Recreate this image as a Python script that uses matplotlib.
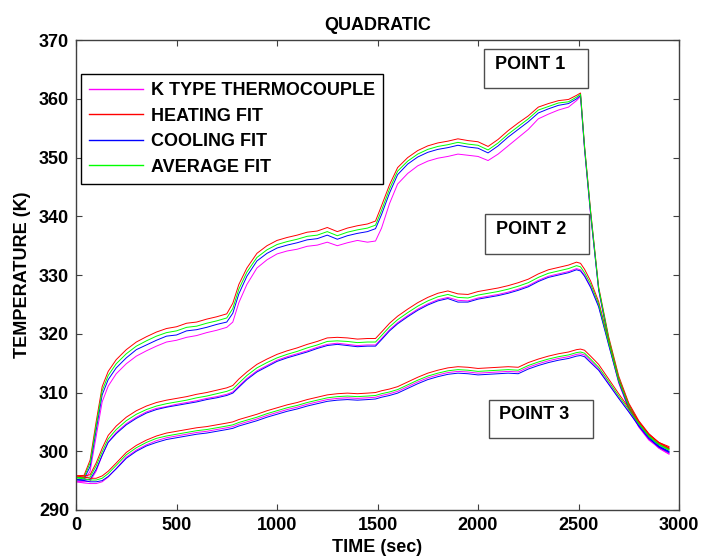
import matplotlib
matplotlib.use('Agg')
import matplotlib.pyplot as plt
from matplotlib.patches import Rectangle

# time axis shared by every trace (sec)
time_s = [0, 40, 70, 100, 130, 160, 200, 250, 300, 350, 400, 450, 500, 550, 600, 650, 700, 750,
          780, 810, 850, 900, 950, 1000, 1050, 1100, 1150, 1200, 1250, 1300, 1350, 1400, 1450,
          1490, 1520, 1560, 1600, 1650, 1700, 1750, 1800, 1850, 1900, 1950, 2000, 2050, 2100,
          2150, 2200, 2250, 2300, 2350, 2400, 2450, 2490, 2510, 2530, 2560, 2600, 2650, 2700,
          2750, 2800, 2850, 2900, 2950]

# POINT 1
p1_tc = [294.9, 294.9, 296.6, 302.5, 308.4, 311.1, 313.2, 314.9, 316.2, 317.1, 317.9, 318.6, 318.9,
         319.4, 319.7, 320.2, 320.6, 321.1, 322.0, 325.3, 328.4, 331.2, 332.6, 333.6, 334.1, 334.4,
         334.9, 335.1, 335.6, 335.0, 335.5, 335.9, 335.6, 335.8, 338.0, 342.2, 345.5, 347.3, 348.6,
         349.4, 349.9, 350.2, 350.6, 350.4, 350.2, 349.5, 350.6, 352.0, 353.4, 354.8, 356.6, 357.4,
         358.1, 358.6, 359.7, 360.4, 351.3, 340.3, 327.6, 318.8, 312.0, 307.3, 304.3, 302.1, 300.6, 299.6]
p1_heat = [295.8, 295.9, 298.5, 305.0, 311.0, 313.6, 315.6, 317.3, 318.6, 319.5, 320.3, 320.9, 321.2,
           321.8, 322.0, 322.5, 322.9, 323.4, 325.2, 328.4, 331.2, 333.7, 335.0, 335.9, 336.4, 336.8,
           337.3, 337.5, 338.1, 337.4, 338.0, 338.4, 338.7, 339.2, 341.8, 345.4, 348.3, 350.0, 351.2,
           352.0, 352.5, 352.8, 353.2, 352.9, 352.7, 351.9, 353.1, 354.6, 355.9, 357.1, 358.6, 359.2,
           359.7, 359.9, 360.6, 361.0, 352.0, 341.0, 328.0, 319.5, 312.8, 308.2, 305.2, 303.0, 301.5, 300.8]
p1_cool = [295.2, 295.3, 297.4, 303.6, 309.6, 312.2, 314.2, 315.9, 317.3, 318.1, 318.9, 319.6, 319.8,
           320.5, 320.7, 321.1, 321.6, 322.0, 323.5, 326.8, 329.8, 332.4, 333.7, 334.6, 335.1, 335.5,
           336.0, 336.2, 336.8, 336.1, 336.7, 337.1, 337.4, 337.9, 340.3, 344.0, 347.1, 348.9, 350.1,
           350.9, 351.4, 351.7, 352.1, 351.8, 351.6, 350.8, 352.0, 353.5, 354.8, 356.1, 357.6, 358.3,
           358.9, 359.2, 360.0, 360.6, 351.6, 340.5, 327.5, 318.9, 312.2, 307.6, 304.6, 302.4, 300.9, 300.0]
p1_avg = [295.5, 295.6, 298.0, 304.3, 310.3, 312.9, 314.9, 316.6, 317.9, 318.8, 319.6, 320.2, 320.5,
          321.1, 321.3, 321.8, 322.2, 322.7, 324.3, 327.6, 330.5, 333.0, 334.3, 335.2, 335.7, 336.1,
          336.6, 336.8, 337.4, 336.7, 337.3, 337.7, 338.0, 338.5, 341.0, 344.7, 347.7, 349.4, 350.6,
          351.4, 351.9, 352.2, 352.6, 352.3, 352.1, 351.3, 352.5, 354.0, 355.3, 356.6, 358.1, 358.7,
          359.3, 359.5, 360.3, 360.8, 351.8, 340.8, 327.8, 319.2, 312.5, 307.9, 304.9, 302.7, 301.2, 300.4]

# POINT 2
p2_tc = [294.8, 294.8, 294.9, 296.6, 299.3, 301.6, 303.2, 304.7, 305.8, 306.7, 307.3, 307.6, 308.0,
         308.3, 308.6, 309.0, 309.3, 309.7, 310.1, 311.1, 312.4, 313.7, 314.6, 315.5, 316.1, 316.6,
         317.1, 317.7, 318.2, 318.4, 318.2, 318.0, 318.1, 318.1, 319.2, 320.7, 321.9, 323.1, 324.2,
         325.1, 325.8, 326.2, 325.7, 325.6, 326.1, 326.4, 326.7, 327.1, 327.6, 328.2, 329.1, 329.8,
         330.2, 330.6, 331.1, 330.9, 330.0, 328.1, 324.8, 318.3, 311.6, 307.2, 304.1, 301.9, 300.6, 299.6]
p2_heat = [295.8, 295.8, 296.0, 298.0, 300.5, 302.7, 304.3, 305.8, 306.9, 307.7, 308.3, 308.7, 309.0,
           309.3, 309.7, 310.0, 310.4, 310.8, 311.2, 312.3, 313.5, 314.8, 315.7, 316.5, 317.1, 317.6,
           318.2, 318.7, 319.3, 319.4, 319.3, 319.1, 319.2, 319.2, 320.3, 321.8, 323.0, 324.2, 325.3,
           326.2, 326.9, 327.3, 326.8, 326.7, 327.2, 327.5, 327.8, 328.2, 328.7, 329.3, 330.2, 330.9,
           331.3, 331.7, 332.2, 332.0, 331.0, 329.0, 325.5, 318.8, 312.3, 308.0, 305.0, 302.8, 301.5, 300.6]
p2_cool = [295.1, 295.1, 295.2, 296.9, 299.3, 301.5, 303.0, 304.5, 305.6, 306.5, 307.1, 307.5, 307.8,
           308.1, 308.4, 308.8, 309.1, 309.5, 309.9, 310.9, 312.2, 313.5, 314.4, 315.3, 315.9, 316.4,
           316.9, 317.5, 318.0, 318.2, 318.0, 317.8, 317.9, 317.9, 319.0, 320.5, 321.7, 322.9, 324.0,
           324.9, 325.6, 326.0, 325.4, 325.4, 325.9, 326.2, 326.5, 326.9, 327.4, 328.0, 328.9, 329.6,
           330.0, 330.4, 330.9, 330.7, 329.8, 327.9, 324.6, 318.1, 311.8, 307.3, 304.3, 302.1, 300.8, 299.9]
p2_avg = [295.5, 295.5, 295.6, 297.5, 299.9, 302.1, 303.7, 305.2, 306.3, 307.1, 307.7, 308.1, 308.4,
          308.7, 309.1, 309.4, 309.8, 310.2, 310.6, 311.6, 312.9, 314.2, 315.1, 315.9, 316.5, 317.0,
          317.6, 318.1, 318.7, 318.8, 318.7, 318.5, 318.6, 318.6, 319.7, 321.2, 322.4, 323.6, 324.7,
          325.6, 326.3, 326.7, 326.2, 326.1, 326.6, 326.9, 327.2, 327.6, 328.1, 328.7, 329.6, 330.3,
          330.7, 331.1, 331.6, 331.4, 330.4, 328.5, 325.1, 318.5, 312.0, 307.7, 304.7, 302.5, 301.2, 300.3]

# POINT 3
p3_tc = [294.8, 294.6, 294.5, 294.5, 294.8, 295.6, 297.1, 299.0, 300.2, 301.1, 301.8, 302.3, 302.6,
         302.9, 303.2, 303.4, 303.7, 304.0, 304.2, 304.6, 305.0, 305.5, 306.1, 306.6, 307.1, 307.5,
         308.0, 308.4, 308.8, 309.0, 309.1, 309.0, 309.1, 309.2, 309.5, 309.8, 310.2, 311.0, 311.8,
         312.5, 313.0, 313.4, 313.6, 313.5, 313.3, 313.4, 313.5, 313.6, 313.5, 314.3, 314.9, 315.4,
         315.8, 316.1, 316.5, 316.6, 316.4, 315.4, 314.0, 311.6, 309.1, 306.8, 304.3, 302.1, 300.5, 299.5]
p3_heat = [295.8, 295.6, 295.4, 295.4, 295.8, 296.6, 298.0, 299.8, 301.0, 301.9, 302.6, 303.1, 303.4,
           303.7, 304.0, 304.2, 304.5, 304.8, 305.0, 305.4, 305.8, 306.3, 306.9, 307.4, 307.9, 308.3,
           308.8, 309.2, 309.6, 309.8, 309.9, 309.8, 309.9, 310.0, 310.3, 310.6, 311.0, 311.8, 312.6,
           313.3, 313.8, 314.2, 314.4, 314.3, 314.1, 314.2, 314.3, 314.4, 314.3, 315.1, 315.7, 316.2,
           316.6, 316.9, 317.3, 317.4, 317.2, 316.2, 314.8, 312.3, 309.8, 307.4, 305.0, 302.9, 301.4, 300.5]
p3_cool = [295.2, 295.0, 294.8, 294.8, 295.0, 295.7, 297.0, 298.8, 300.0, 300.9, 301.5, 302.0, 302.3,
           302.6, 302.9, 303.1, 303.4, 303.7, 303.9, 304.3, 304.7, 305.2, 305.8, 306.3, 306.8, 307.2,
           307.7, 308.1, 308.5, 308.7, 308.8, 308.7, 308.8, 308.9, 309.2, 309.5, 309.9, 310.7, 311.5,
           312.2, 312.7, 313.1, 313.3, 313.2, 313.0, 313.1, 313.2, 313.3, 313.2, 314.0, 314.6, 315.1,
           315.5, 315.8, 316.2, 316.3, 316.1, 315.1, 313.8, 311.4, 309.0, 306.7, 304.3, 302.2, 300.7, 299.8]
p3_avg = [295.5, 295.3, 295.1, 295.1, 295.4, 296.2, 297.6, 299.4, 300.6, 301.5, 302.2, 302.6, 302.9,
          303.2, 303.5, 303.7, 304.0, 304.3, 304.5, 304.9, 305.3, 305.8, 306.4, 306.9, 307.4, 307.8,
          308.3, 308.7, 309.1, 309.3, 309.4, 309.3, 309.4, 309.5, 309.8, 310.1, 310.5, 311.3, 312.1,
          312.8, 313.3, 313.7, 313.9, 313.8, 313.6, 313.7, 313.8, 313.9, 313.8, 314.6, 315.2, 315.7,
          316.1, 316.4, 316.8, 316.9, 316.7, 315.7, 314.3, 311.9, 309.4, 307.1, 304.7, 302.6, 301.1, 300.2]

series_labels = ['K TYPE THERMOCOUPLE', 'HEATING FIT', 'COOLING FIT', 'AVERAGE FIT']
series_colors = ['#ff00ff', '#ff0000', '#0000ff', '#00ff00']
point_labels = ['POINT 1', 'POINT 2', 'POINT 3']

points = [
    [p1_tc, p1_heat, p1_cool, p1_avg],
    [p2_tc, p2_heat, p2_cool, p2_avg],
    [p3_tc, p3_heat, p3_cool, p3_avg],
]


def start_plotting(title):
    plt.rcParams['font.family'] = ['Liberation Sans', 'DejaVu Sans']
    plt.rcParams['font.weight'] = 'bold'
    plt.rcParams['font.size'] = 13
    figure = plt.figure(figsize=(7.04, 5.6), dpi=100)
    axes = figure.add_axes([0.108, 0.0893, 0.8565, 0.839])
    axes.set_title(title, fontsize=13, fontweight='bold', pad=7.5)
    return figure, axes


def add_point_box(axes, text, box, text_xy):
    rect = Rectangle((box[0], box[1]), box[2], box[3], transform=axes.transAxes,
                     facecolor='white', edgecolor='0.3', linewidth=1.0, zorder=5)
    axes.add_patch(rect)
    axes.text(text_xy[0], text_xy[1], text, transform=axes.transAxes, ha='left', va='center',
              fontsize=13, fontweight='bold', zorder=6)


def main():
    figure, axes = start_plotting('QUADRATIC')

    for traces in points:
        for i, values in enumerate(traces):
            axes.plot(time_s, values, color=series_colors[i], linewidth=0.7,
                      label=series_labels[i] if traces is points[0] else None)

    axes.set_xlim(0, 3000)
    axes.set_ylim(290, 370)
    axes.set_xticks(range(0, 3001, 500))
    axes.set_yticks(range(290, 371, 10))
    axes.set_xlabel('TIME (sec)', fontsize=13, fontweight='bold', labelpad=4)
    axes.set_ylabel('TEMPERATURE (K)', fontsize=13, fontweight='bold', labelpad=6)
    axes.tick_params(direction='in', length=4, width=0.8, top=True, right=True,
                     color='0.25', pad=5, labelsize=13)
    for spine in axes.spines.values():
        spine.set_color('0.25')
        spine.set_linewidth(1.0)

    leg = axes.legend(loc='upper left', bbox_to_anchor=(0.0083, 0.928), borderaxespad=0,
                      fancybox=False, framealpha=1, edgecolor='black', fontsize=13,
                      handlelength=3.0, handletextpad=0.4, labelspacing=0.47, borderpad=0.45)
    leg.get_frame().set_linewidth(1.0)
    for line in leg.get_lines():
        line.set_linewidth(1.0)

    add_point_box(axes, point_labels[0], (0.677, 0.898, 0.172, 0.083), (0.695, 0.949))
    add_point_box(axes, point_labels[1], (0.678, 0.545, 0.173, 0.085), (0.697, 0.596))
    add_point_box(axes, point_labels[2], (0.685, 0.153, 0.172, 0.081), (0.701, 0.204))

    figure.savefig('out.png', dpi=100)


if __name__ == '__main__':
    main()
